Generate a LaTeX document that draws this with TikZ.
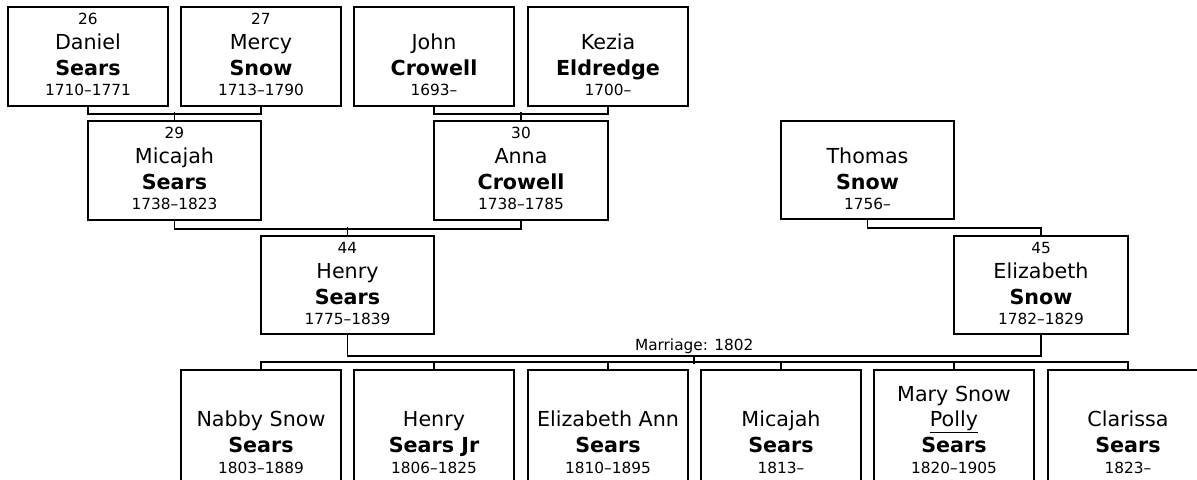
\documentclass[tikz,border=0pt]{standalone}
\usepackage{fontspec}
\setmainfont{DejaVu Sans}
\usetikzlibrary{calc}
\tikzset{
  pbox/.style={draw=black, line width=1.2pt, rectangle, inner sep=0pt, fill=white},
  link/.style={draw=black, line width=1.4pt},
  smalltxt/.style={anchor=base, inner sep=0pt, font=\fontsize{11.5pt}{13pt}\selectfont, text=black},
  bigtxt/.style={anchor=base, inner sep=0pt, font=\fontsize{15.5pt}{18pt}\selectfont, text=black},
  bigbold/.style={anchor=base, inner sep=0pt, font=\fontsize{15.5pt}{18pt}\selectfont\bfseries, text=black},
}
% ancestor with number: name, left, top, width, height, number, first, last, years
\newcommand{\ancnum}[9]{%
  \node[pbox, minimum width={#4*0.75pt}, minimum height={#5*0.75pt}] (#1) at ({#2+#4/2},{#3+#5/2}) {};
  \node[smalltxt] (#1-n) at ({#2+#4/2},{#3+17}) {#6};
  \node[bigtxt] (#1-f) at ({#2+#4/2},{#3+42}) {#7};
  \node[bigbold] (#1-l) at ({#2+#4/2},{#3+68}) {#8};
  \node[smalltxt] (#1-y) at ({#2+#4/2},{#3+88}) {#9};
}
% ancestor without number: name, left, top, width, height, first, last, years
\newcommand{\ancplain}[8]{%
  \node[pbox, minimum width={#4*0.75pt}, minimum height={#5*0.75pt}] (#1) at ({#2+#4/2},{#3+#5/2}) {};
  \node[bigtxt] (#1-f) at ({#2+#4/2},{#3+42}) {#6};
  \node[bigbold] (#1-l) at ({#2+#4/2},{#3+68}) {#7};
  \node[smalltxt] (#1-y) at ({#2+#4/2},{#3+88}) {#8};
}
% child: name, centre x, first, last, years
\newcommand{\kid}[5]{%
  \node[pbox, minimum width={160*0.75pt}, minimum height={140*0.75pt}] (#1) at ({#2},{370+70}) {};
  \node[bigtxt] (#1-f) at ({#2},{370+56}) {#3};
  \node[bigbold] (#1-l) at ({#2},{370+82}) {#4};
  \node[smalltxt] (#1-y) at ({#2},{370+103}) {#5};
}
\begin{document}
\begin{tikzpicture}[x=0.75pt, y=-0.75pt]
\useasboundingbox (0,0) rectangle (1197,479);
\clip (0,0) rectangle (1197,479);

% generation 1
\ancnum{dan}{8}{7}{160}{99}{26}{Daniel}{Sears}{1710–1771}
\ancnum{mer}{181}{7}{160}{99}{27}{Mercy}{Snow}{1713–1790}
\ancplain{joh}{354}{7}{160}{99}{John}{Crowell}{1693–}
\ancplain{kez}{528}{7}{160}{99}{Kezia}{Eldredge}{1700–}

% generation 2
\ancnum{mic}{88}{121}{173}{99}{29}{Micajah}{Sears}{1738–1823}
\ancnum{ann}{434}{121}{174}{99}{30}{Anna}{Crowell}{1738–1785}
\ancplain{tho}{781}{121}{173}{98}{Thomas}{Snow}{1756–}

% generation 3
\ancnum{hen}{261}{236}{173}{98}{44}{Henry}{Sears}{1775–1839}
\ancnum{eli}{954}{236}{174}{98}{45}{Elizabeth}{Snow}{1782–1829}

% children
\kid{k1}{261}{Nabby Snow}{Sears}{1803–1889}
\kid{k2}{434}{Henry}{Sears Jr}{1806–1825}
\kid{k3}{608}{Elizabeth Ann}{Sears}{1810–1895}
\kid{k4}{781}{Micajah}{Sears}{1813–}
\kid{k5}{954}{\underline{Polly}}{Sears}{1820–1905}
\node[bigtxt] (k5-g) at (954,{370+31}) {Mary Snow};
\kid{k6}{1128}{Clarissa}{Sears}{1823–}

% connectors generation 1 -> 2
\draw[link] (dan.south) -- ++(0,7) -| (mer.south);
\draw[link] (mic.north) -- ++(0,-8);
\draw[link] (joh.south) -- ++(0,7) -| (kez.south);
\draw[link] (ann.north) -- ++(0,-8);

% generation 2 -> 3
\draw[link] (mic.south) -- ++(0,8) -| (ann.south);
\draw[link] (hen.north) -- ++(0,-8);
\draw[link] (tho.south) -- ++(0,8) -| (eli.north);

% marriage
\draw[link] (hen.south) -- ++(0,21) coordinate (mleft) -| (eli.south);
\coordinate (mar) at ($(mleft)!0.5!(mleft -| eli.south)$);
\node[smalltxt] (mlab) at ($(mar)+(0,-5)$) {Marriage: 1802};
\draw[link] (mar) -- ++(0,8);

% children bar
\draw[link] (k1.north) -- ++(0,-7) -| (k6.north);
\foreach \k in {k2,k3,k4,k5}{
  \draw[link] (\k.north) -- ++(0,-7);
}
\end{tikzpicture}
\end{document}
